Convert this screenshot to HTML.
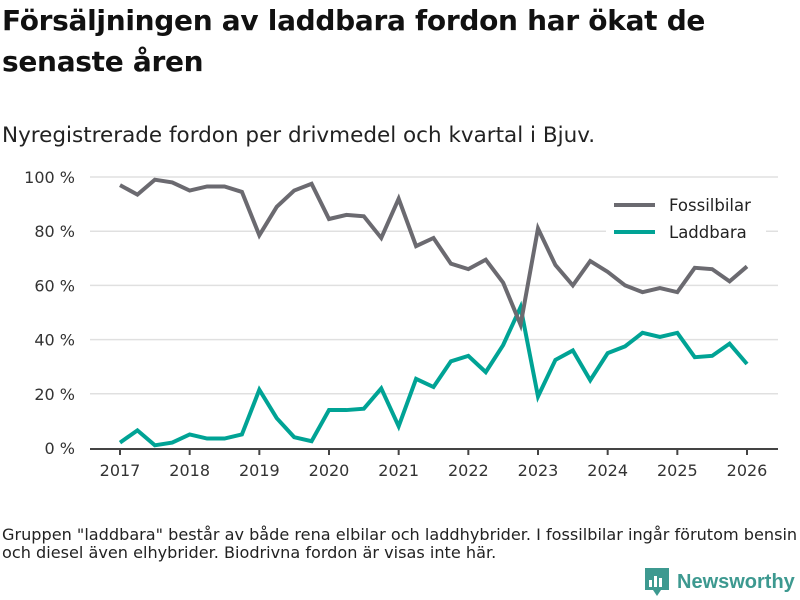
<!DOCTYPE html>
<html><head><meta charset="utf-8"><style>
body{margin:0;width:800px;height:600px;background:#fff;font-family:"DejaVu Sans","Liberation Sans",sans-serif;overflow:hidden;position:relative;color:#111}
h1{position:absolute;left:2px;top:0;margin:0;font-size:28px;line-height:41px;font-weight:bold;width:790px;letter-spacing:-0.3px}
.sub{position:absolute;left:2px;top:123px;font-size:21.5px;color:#222}
.note{position:absolute;left:2px;top:526px;font-size:16.1px;line-height:18px;color:#222}
.logo{position:absolute;left:645px;top:568px;font-size:20px;font-family:"Liberation Sans",sans-serif;font-weight:bold;color:#3d9990;display:flex;align-items:center;gap:8px}
</style></head><body>
<h1>Försäljningen av laddbara fordon har ökat de senaste åren</h1>
<div class="sub">Nyregistrerade fordon per drivmedel och kvartal i Bjuv.</div>
<svg id="chart" width="800" height="600" style="position:absolute;left:0;top:0"></svg>
<div class="note">Gruppen "laddbara" består av både rena elbilar och laddhybrider. I fossilbilar ingår förutom bensin<br>och diesel även elhybrider. Biodrivna fordon är visas inte här.</div>
<div class="logo"><svg width="24" height="28" viewBox="0 0 24 28"><rect x="0" y="0" width="24" height="22" fill="#3d9990"/><polygon points="8,22 16,22 12,28" fill="#3d9990"/><rect x="4" y="12" width="3" height="7" fill="#fff"/><rect x="9" y="8" width="3" height="11" fill="#fff"/><rect x="14" y="10" width="3" height="9" fill="#fff"/></svg>Newsworthy</div>
<script>
const yearTicks=[2017,2018,2019,2020,2021,2022,2023,2024,2025,2026];
const yTicks=[0,20,40,60,80,100];
const fossil=[97,93.5,99,98,95,96.5,96.5,94.5,78.5,89,95,97.5,84.5,86,85.5,77.5,92,74.5,77.5,68,66,69.5,61,45.5,81,67.5,60,69,65,60,57.5,59,57.5,66.5,66,61.5,67];
const laddbara=[2,6.5,1,2,5,3.5,3.5,5,21.5,11,4,2.5,14,14,14.5,22,8,25.5,22.5,32,34,28,38,52,19,32.5,36,25,35,37.5,42.5,41,42.5,33.5,34,38.5,31];
const NS="http://www.w3.org/2000/svg",svg=document.getElementById('chart');
const x=t=>120+(t-2017)*(747-120)/9;
const y=v=>448-v*2.71;
function el(tag,attrs,parent){const e=document.createElementNS(NS,tag);for(const k in attrs)e.setAttribute(k,attrs[k]);(parent||svg).appendChild(e);return e;}
yTicks.forEach(v=>{
 if(v>0){const g=el('line',{x1:90,x2:778,y1:y(v),y2:y(v),stroke:'#e0e0e0','stroke-width':1.5});
 
 }
 const t=el('text',{x:75,y:y(v)+6,'text-anchor':'end','font-size':16,fill:'#333','font-family':'DejaVu Sans,sans-serif'});t.textContent=v+' %';
 
 
});
const ax=el('line',{x1:90,x2:778,y1:449,y2:449,stroke:'#444','stroke-width':2});


yearTicks.forEach(yr=>{
 const tk=el('line',{x1:x(yr),x2:x(yr),y1:449,y2:455,stroke:'#444','stroke-width':2});
 
 
 const t=el('text',{x:x(yr),y:476,'text-anchor':'middle','font-size':16,fill:'#333','font-family':'DejaVu Sans,sans-serif'});t.textContent=yr;
 
 
});
function line(arr,color,name){
 const p=el('polyline',{points:arr.map((v,i)=>x(2017+i/4)+','+y(v)).join(' '),fill:'none',stroke:color,'stroke-width':4,'stroke-linejoin':'miter'});
 
 
}
line(laddbara,'#00a395','series-laddbara');
line(fossil,'#6b6a70','series-fossilbilar');
const lg=el('rect',{x:606,y:190,width:160,height:60,fill:'#fff'});


[['Fossilbilar','#6b6a70',205],['Laddbara','#00a395',232]].forEach(([n,c,yy])=>{
 const l=el('line',{x1:614,x2:655,y1:yy,y2:yy,stroke:c,'stroke-width':4});
 
 
 const t=el('text',{x:669,y:yy+6,'font-size':16.5,fill:'#222','font-family':'DejaVu Sans,sans-serif'});t.textContent=n;
 
 
});
</script>
</body></html>
